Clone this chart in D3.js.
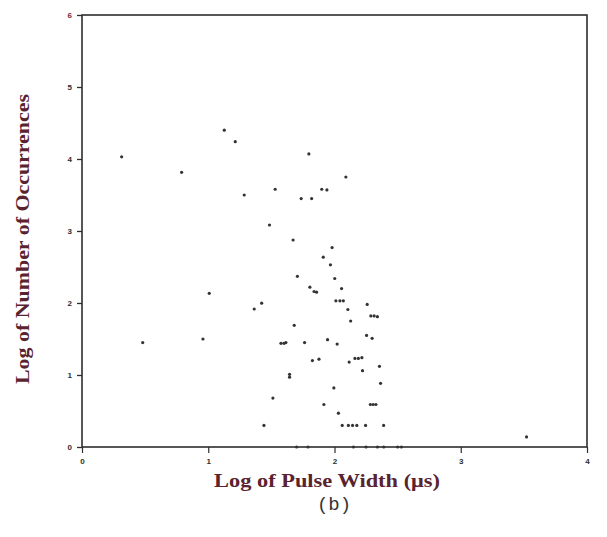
<!DOCTYPE html>
<html>
<head>
<meta charset="utf-8">
<script src="https://cdn.jsdelivr.net/npm/d3@7"></script>
<style>
  html, body { margin: 0; padding: 0; background: #ffffff; }
  svg { display: block; }
</style>
</head>
<body>
<script>
// Log10 of pulse width (µs) against log10 of number of occurrences
const observations = [
  [0.314, 4.03], [0.789, 3.815], [0.481, 1.45], [0.958, 1.50], [1.008, 2.135],
  [1.127, 4.40], [1.214, 4.24], [1.285, 3.50], [1.364, 1.917], [1.423, 1.997],
  [1.441, 0.30], [1.485, 3.083], [1.512, 0.68], [1.530, 3.58], [1.576, 1.44],
  [1.600, 1.44], [1.615, 1.45], [1.644, 1.01], [1.644, 0.97], [1.672, 2.875],
  [1.681, 1.69], [1.706, 2.37], [1.736, 3.45], [1.763, 1.45], [1.797, 4.07],
  [1.805, 2.22], [1.838, 2.16], [1.858, 2.15], [1.819, 3.45], [1.825, 1.20],
  [1.877, 1.22], [1.899, 3.58], [1.940, 3.57], [1.911, 2.636], [1.916, 0.59],
  [1.945, 1.49], [1.968, 2.53], [1.981, 2.77], [1.995, 0.82], [2.002, 2.34],
  [2.011, 2.03], [2.043, 2.03], [2.070, 2.03], [2.021, 1.43], [2.031, 0.47],
  [2.056, 2.20], [2.061, 0.30], [2.090, 3.75], [2.106, 1.91], [2.110, 0.30],
  [2.143, 0.30], [2.177, 0.30], [2.116, 1.18], [2.128, 1.75], [2.162, 1.23],
  [2.189, 1.23], [2.217, 1.24], [2.222, 1.06], [2.246, 0.30], [2.254, 1.55],
  [2.259, 1.98], [2.284, 0.59], [2.306, 0.59], [2.328, 0.59], [2.288, 1.82],
  [2.314, 1.82], [2.340, 1.81], [2.298, 1.51], [2.356, 1.12], [2.365, 0.885],
  [2.389, 0.30], [3.521, 0.14],
  [1.70, 0], [1.79, 0], [2.15, 0], [2.25, 0], [2.34, 0], [2.39, 0], [2.50, 0], [2.53, 0]
];
const xTickValues = [0, 1, 2, 3, 4];
const yTickValues = [0, 1, 2, 3, 4, 5, 6];
const xTitle = "Log of Pulse Width (\u03BCs)";
const yTitle = "Log of Number of Occurrences";
const panelTag = "(b)";

const W = 607, H = 537;
const svg = d3.select("body").append("svg").attr("width", W).attr("height", H);

const x = d3.scaleLinear().domain([0, 4]).range([82, 587]);
const y = d3.scaleLinear().domain([0, 6]).range([447, 15]);

const ink = "#2e2e2e";
const maroon = "#5a2330";

// plot frame
svg.append("rect")
  .attr("x", x(0)).attr("y", y(6))
  .attr("width", x(4) - x(0)).attr("height", y(0) - y(6))
  .attr("fill", "none").attr("stroke", ink).attr("stroke-width", 1.6);

// y axis
const yAxis = svg.append("g").attr("transform", `translate(${x(0)},0)`)
  .call(d3.axisLeft(y).tickValues(yTickValues).tickSize(5).tickSizeOuter(0).tickPadding(5)
    .tickFormat(d3.format("d")));
yAxis.select(".domain").remove();
yAxis.selectAll(".tick line").attr("stroke", ink).attr("stroke-width", 1.3);
yAxis.selectAll(".tick text")
  .attr("font-family", "Liberation Sans, Arial, sans-serif")
  .attr("font-size", 8).attr("font-weight", "bold")
  .attr("fill", d => d === 6 ? "#7a1f35" : ink);

// x axis
const xAxis = svg.append("g").attr("transform", `translate(0,${y(0)})`)
  .call(d3.axisBottom(x).tickValues(xTickValues).tickSize(6).tickSizeOuter(0).tickPadding(5)
    .tickFormat(d3.format("d")));
xAxis.select(".domain").remove();
xAxis.selectAll(".tick line").attr("stroke", ink).attr("stroke-width", 1.2);
xAxis.selectAll(".tick text")
  .attr("font-family", "Liberation Sans, Arial, sans-serif")
  .attr("font-size", 8).attr("font-weight", "bold").attr("fill", ink);

// scatter points
svg.append("g").selectAll("circle")
  .data(observations)
  .join("circle")
  .attr("cx", d => x(d[0]))
  .attr("cy", d => y(d[1]))
  .attr("r", 1.6)
  .attr("fill", "#333333");

// axis titles
svg.append("text")
  .attr("x", 327).attr("y", 487)
  .attr("text-anchor", "middle")
  .attr("font-family", "Liberation Serif, Times New Roman, serif")
  .attr("font-size", 18).attr("font-weight", "bold")
  .attr("fill", maroon)
  .attr("textLength", 226).attr("lengthAdjust", "spacingAndGlyphs")
  .text(xTitle);

svg.append("text")
  .attr("transform", "translate(29,239) rotate(-90)")
  .attr("text-anchor", "middle")
  .attr("font-family", "Liberation Serif, Times New Roman, serif")
  .attr("font-size", 18).attr("font-weight", "bold")
  .attr("fill", maroon)
  .attr("textLength", 290).attr("lengthAdjust", "spacingAndGlyphs")
  .text(yTitle);

svg.append("text")
  .attr("x", 334).attr("y", 510)
  .attr("text-anchor", "middle")
  .attr("font-family", "Liberation Mono, Courier New, monospace")
  .attr("font-size", 19)
  .attr("fill", "#333333")
  .text(panelTag);
</script>
</body>
</html>
